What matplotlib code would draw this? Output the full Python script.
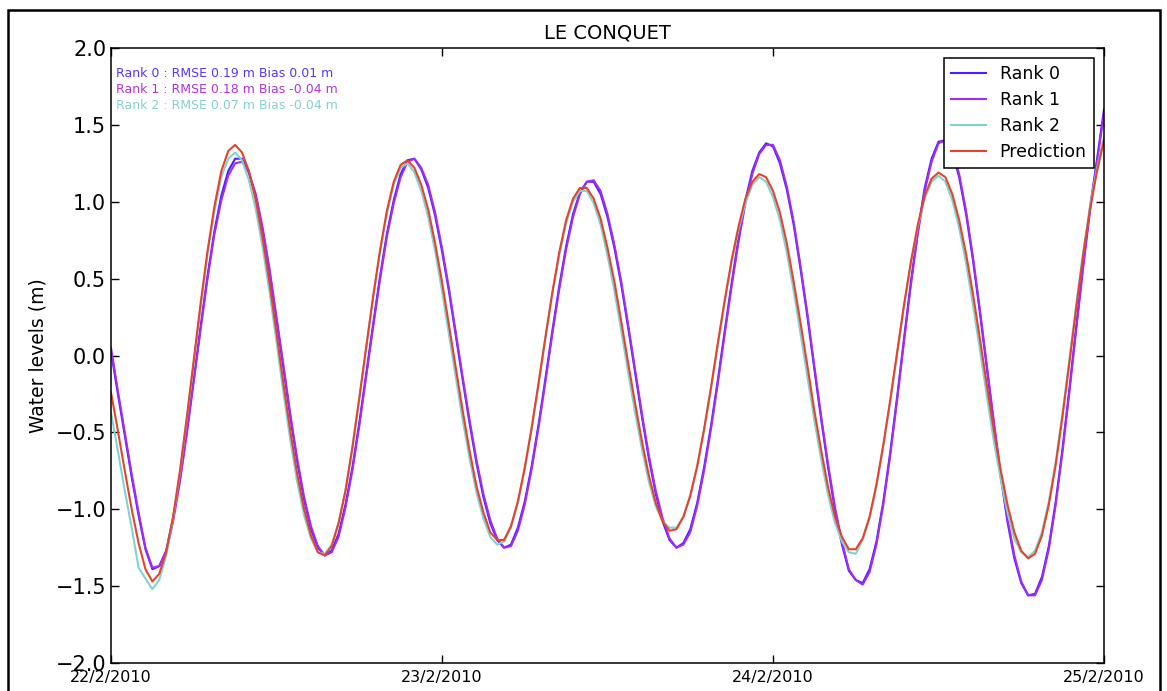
import numpy as np
import matplotlib
matplotlib.use("Agg")
import matplotlib.pyplot as plt
from matplotlib.patches import Rectangle

# half-hourly samples from 22/2/2010 00h to 25/2/2010 00h
hours = np.arange(0, 72.5, 0.5)

rank0 = [0.03, -0.25, -0.52, -0.79, -1.04, -1.26, -1.39, -1.37, -1.27, -1.06,
         -0.80, -0.49, -0.15, 0.19, 0.52, 0.81, 1.04, 1.20, 1.28, 1.28,
         1.19, 1.03, 0.81, 0.54, 0.23, -0.08, -0.40, -0.69, -0.94, -1.13,
         -1.25, -1.30, -1.27, -1.16, -0.97, -0.73, -0.44, -0.12, 0.20, 0.51,
         0.79, 1.01, 1.18, 1.27, 1.28, 1.21, 1.09, 0.91, 0.68, 0.42,
         0.13, -0.16, -0.44, -0.70, -0.92, -1.09, -1.20, -1.25, -1.23, -1.12,
         -0.95, -0.72, -0.45, -0.15, 0.16, 0.45, 0.71, 0.92, 1.06, 1.13,
         1.13, 1.05, 0.90, 0.70, 0.46, 0.18, -0.11, -0.40, -0.67, -0.90,
         -1.08, -1.20, -1.25, -1.22, -1.13, -0.96, -0.73, -0.46, -0.16, 0.16,
         0.47, 0.76, 1.01, 1.20, 1.32, 1.38, 1.36, 1.25, 1.08, 0.85,
         0.56, 0.25, -0.09, -0.42, -0.73, -1.01, -1.23, -1.40, -1.46, -1.48,
         -1.39, -1.21, -0.95, -0.63, -0.27, 0.11, 0.48, 0.81, 1.09, 1.28,
         1.39, 1.40, 1.32, 1.16, 0.92, 0.62, 0.28, -0.08, -0.44, -0.78,
         -1.08, -1.32, -1.48, -1.56, -1.55, -1.44, -1.24, -0.95, -0.60, -0.21,
         0.20, 0.60, 0.97, 1.28, 1.60]

rank1 = [0.05, -0.23, -0.50, -0.77, -1.02, -1.25, -1.38, -1.37, -1.28, -1.08,
         -0.82, -0.51, -0.17, 0.17, 0.50, 0.79, 1.01, 1.17, 1.25, 1.26,
         1.19, 1.05, 0.83, 0.56, 0.25, -0.06, -0.38, -0.67, -0.92, -1.11,
         -1.24, -1.30, -1.28, -1.18, -0.99, -0.75, -0.46, -0.14, 0.18, 0.49,
         0.77, 0.99, 1.16, 1.26, 1.28, 1.22, 1.11, 0.93, 0.70, 0.44,
         0.15, -0.14, -0.42, -0.68, -0.90, -1.07, -1.19, -1.25, -1.24, -1.14,
         -0.97, -0.74, -0.47, -0.17, 0.14, 0.43, 0.69, 0.90, 1.05, 1.13,
         1.14, 1.07, 0.92, 0.72, 0.48, 0.20, -0.09, -0.38, -0.65, -0.88,
         -1.06, -1.19, -1.25, -1.23, -1.15, -0.98, -0.75, -0.48, -0.18, 0.14,
         0.45, 0.74, 0.99, 1.18, 1.31, 1.37, 1.37, 1.27, 1.10, 0.87,
         0.58, 0.27, -0.07, -0.40, -0.71, -0.99, -1.21, -1.39, -1.46, -1.49,
         -1.41, -1.23, -0.97, -0.65, -0.29, 0.09, 0.46, 0.79, 1.07, 1.26,
         1.38, 1.40, 1.34, 1.18, 0.94, 0.64, 0.30, -0.06, -0.42, -0.76,
         -1.06, -1.30, -1.47, -1.56, -1.56, -1.46, -1.26, -0.97, -0.62, -0.23,
         0.18, 0.58, 0.95, 1.26, 1.58]

rank2 = [-0.37, -0.62, -0.88, -1.12, -1.38, -1.45, -1.52, -1.46, -1.30, -1.06,
         -0.76, -0.41, -0.05, 0.32, 0.66, 0.94, 1.16, 1.28, 1.32, 1.27,
         1.14, 0.95, 0.70, 0.41, 0.09, -0.24, -0.55, -0.82, -1.04, -1.19,
         -1.28, -1.29, -1.23, -1.09, -0.88, -0.60, -0.28, 0.05, 0.37, 0.67,
         0.92, 1.11, 1.22, 1.25, 1.19, 1.07, 0.90, 0.68, 0.42, 0.14,
         -0.14, -0.42, -0.67, -0.89, -1.06, -1.18, -1.23, -1.21, -1.12, -0.96,
         -0.74, -0.48, -0.19, 0.11, 0.40, 0.65, 0.86, 1.00, 1.07, 1.07,
         0.99, 0.85, 0.65, 0.42, 0.16, -0.11, -0.37, -0.61, -0.82, -0.98,
         -1.08, -1.12, -1.12, -1.05, -0.92, -0.73, -0.49, -0.22, 0.07, 0.35,
         0.61, 0.82, 0.99, 1.11, 1.16, 1.13, 1.03, 0.88, 0.67, 0.42,
         0.14, -0.14, -0.42, -0.68, -0.91, -1.09, -1.21, -1.28, -1.29, -1.20,
         -1.06, -0.85, -0.59, -0.30, 0.01, 0.32, 0.60, 0.84, 1.02, 1.13,
         1.17, 1.13, 1.01, 0.83, 0.60, 0.33, 0.04, -0.26, -0.55, -0.80,
         -1.02, -1.19, -1.28, -1.31, -1.27, -1.15, -0.95, -0.69, -0.37, -0.02,
         0.34, 0.68, 0.98, 1.22, 1.42]

prediction = [-0.24, -0.49, -0.75, -1.00, -1.22, -1.39, -1.47, -1.42, -1.28, -1.05,
              -0.75, -0.40, -0.03, 0.34, 0.68, 0.97, 1.20, 1.33, 1.37, 1.32,
              1.20, 1.01, 0.76, 0.47, 0.15, -0.18, -0.49, -0.77, -1.00, -1.17,
              -1.28, -1.30, -1.24, -1.09, -0.88, -0.60, -0.28, 0.05, 0.38, 0.68,
              0.94, 1.13, 1.24, 1.27, 1.22, 1.11, 0.95, 0.73, 0.48, 0.20,
              -0.08, -0.36, -0.62, -0.85, -1.02, -1.15, -1.20, -1.20, -1.11, -0.95,
              -0.73, -0.47, -0.18, 0.12, 0.41, 0.67, 0.88, 1.02, 1.09, 1.09,
              1.02, 0.89, 0.70, 0.48, 0.22, -0.05, -0.31, -0.56, -0.78, -0.96,
              -1.08, -1.14, -1.13, -1.05, -0.91, -0.72, -0.48, -0.21, 0.08, 0.36,
              0.62, 0.84, 1.02, 1.13, 1.18, 1.16, 1.07, 0.93, 0.73, 0.48,
              0.21, -0.07, -0.36, -0.62, -0.86, -1.05, -1.18, -1.26, -1.26, -1.19,
              -1.05, -0.84, -0.58, -0.29, 0.02, 0.33, 0.61, 0.85, 1.04, 1.15,
              1.19, 1.16, 1.05, 0.88, 0.66, 0.40, 0.11, -0.19, -0.48, -0.74,
              -0.97, -1.15, -1.27, -1.32, -1.29, -1.17, -0.97, -0.71, -0.39, -0.04,
              0.32, 0.66, 0.96, 1.20, 1.40]

labels = ['Rank 0', 'Rank 1', 'Rank 2', 'Prediction']
colors = ['#4f1cff', '#a22cf2', '#7fd3d3', '#e5432c']
stats = ['Rank 0 : RMSE 0.19 m Bias 0.01 m',
         'Rank 1 : RMSE 0.18 m Bias -0.04 m',
         'Rank 2 : RMSE 0.07 m Bias -0.04 m']
stat_colors = ['#5a36f2', '#b034d6', '#86cfcf']
date_ticks = [0, 24, 48, 72]
date_labels = ['22/2/2010', '23/2/2010', '24/2/2010', '25/2/2010']

fig = plt.figure(figsize=(11.67, 6.91), dpi=100)
ax = fig.add_axes([111 / 1167, 1 - 663 / 691, 993 / 1167, 615 / 691])

for series, lab, col in zip([rank0, rank1, rank2, prediction], labels, colors):
    ax.plot(hours, series, color=col, lw=1.5, label=lab,
            solid_joinstyle='round')

ax.set_xlim(0, 72)
ax.set_ylim(-2.0, 2.0)
ax.set_yticks(np.arange(-2.0, 2.01, 0.5))
ax.set_xticks(date_ticks)
ax.set_xticklabels(date_labels, fontsize=11.5)
ax.tick_params(axis='y', labelsize=15)
ax.tick_params(direction='in', top=True, right=True, length=6, width=1)
ax.tick_params(axis='x', pad=5)
for sp in ax.spines.values():
    sp.set_linewidth(1.1)

ax.set_ylabel('Water levels (m)', fontsize=13.5, labelpad=6)
ax.set_title('LE CONQUET', fontsize=14, pad=7)

for i, (txt, col) in enumerate(zip(stats, stat_colors)):
    ax.text(0.005, 0.958 - i * 0.026, txt, color=col, fontsize=9,
            transform=ax.transAxes, va='center', ha='left')

leg = ax.legend(loc='upper right', fontsize=12.5, fancybox=False, framealpha=1,
                edgecolor='black', borderaxespad=0.6, handlelength=2.0,
                labelspacing=0.45)
leg.get_frame().set_linewidth(1.1)

# screenshot frame around the figure
fig.add_artist(Rectangle((8 / 1167, -0.1), 1152 / 1167, 1.1 - 10 / 691,
                         transform=fig.transFigure, fill=False,
                         edgecolor='black', lw=1.8, clip_on=False))

fig.savefig('out.png', dpi=100)
